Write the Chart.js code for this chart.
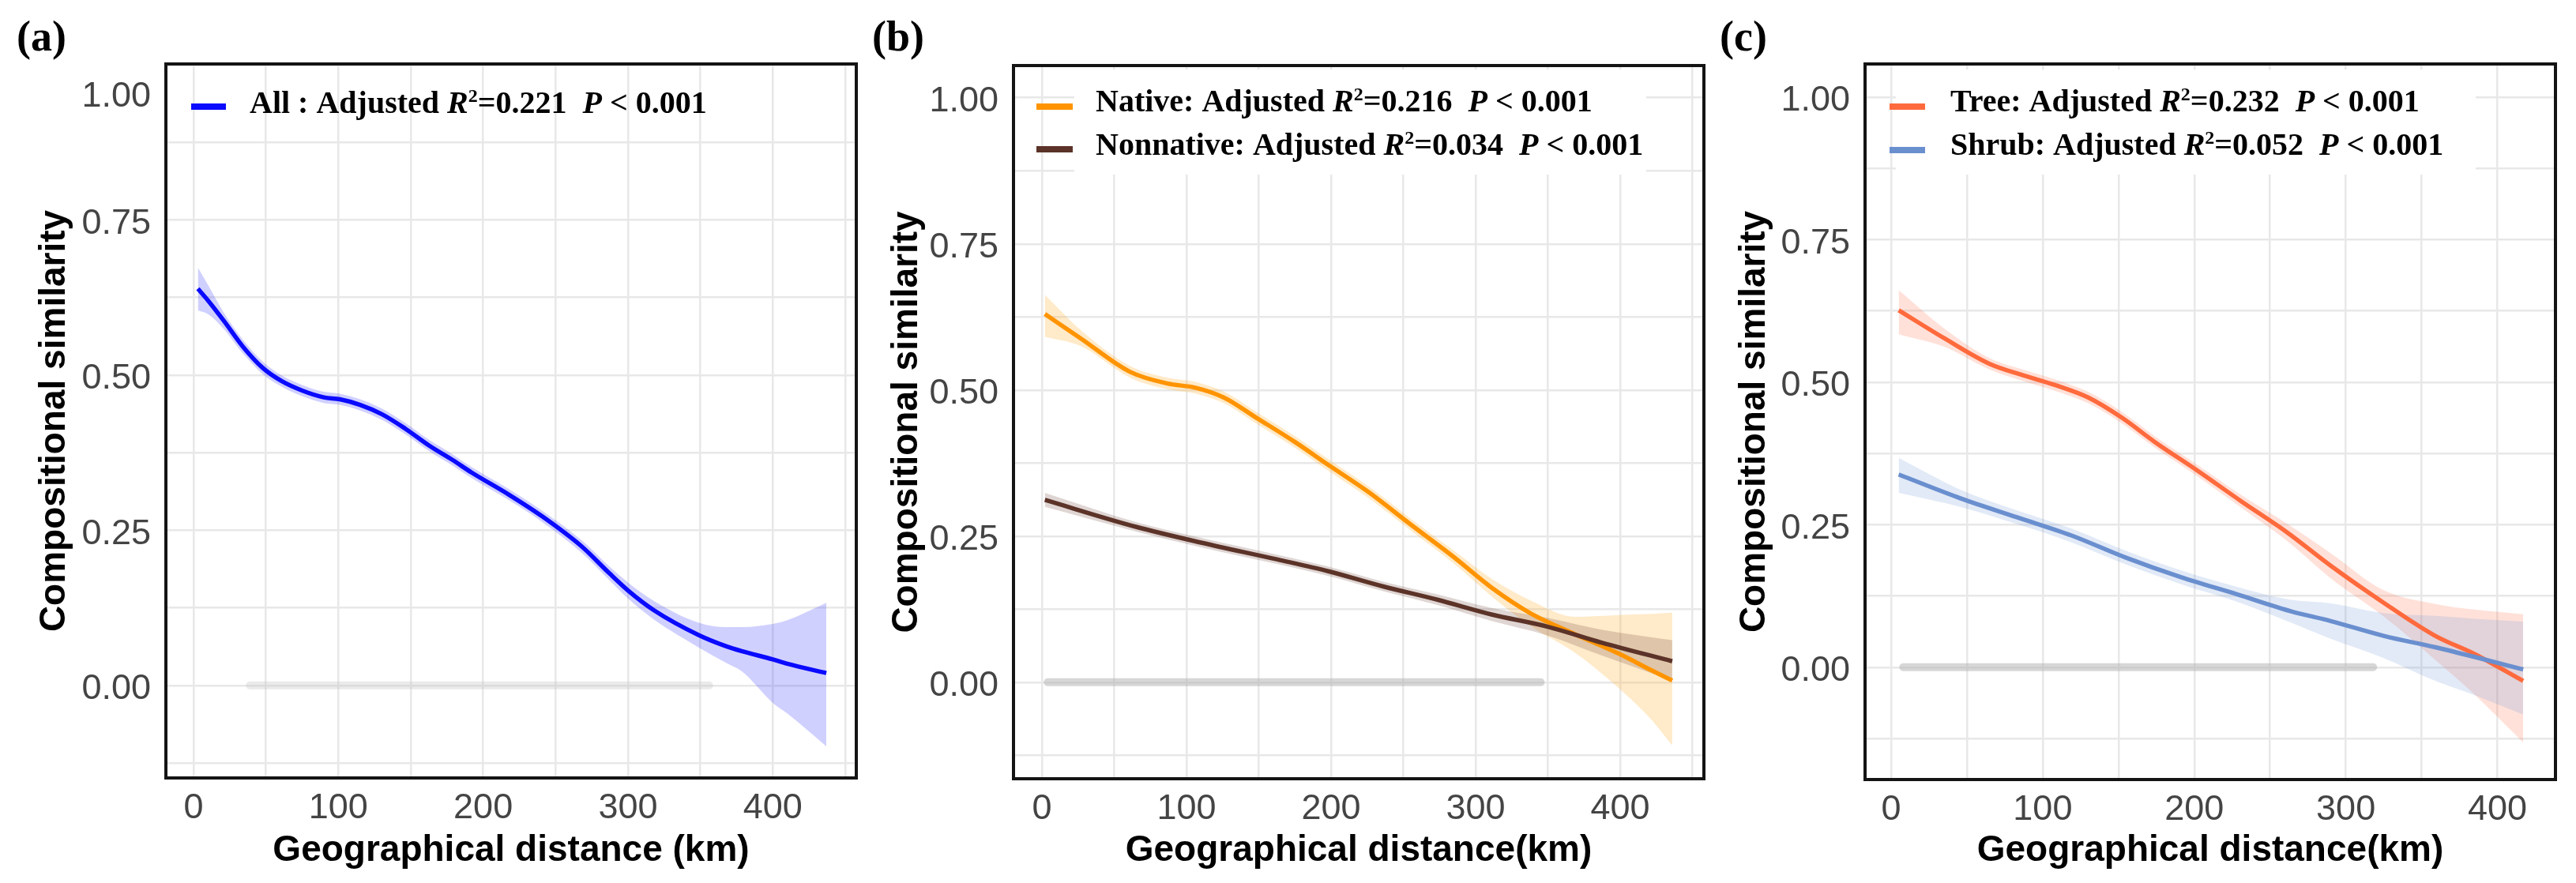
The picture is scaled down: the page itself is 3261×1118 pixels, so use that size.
<!DOCTYPE html>
<html><head><meta charset="utf-8">
<script src="https://cdn.jsdelivr.net/npm/chart.js@4.4.1/dist/chart.umd.min.js"></script>
<style>
html,body{margin:0;padding:0;background:#fff;}
#wrap{position:relative;width:3261px;height:1118px;overflow:hidden;background:#fff;}
canvas{position:absolute;top:0;}
</style></head><body>
<div id="wrap">
<canvas id="ca" width="1095" height="1118" style="left:0px"></canvas>
<canvas id="cb" width="1075" height="1118" style="left:1095px"></canvas>
<canvas id="cc" width="1091" height="1118" style="left:2170px"></canvas>
</div>
<script>
// ---------- tick labels ----------
const xTickLabels = ['0', '100', '200', '300', '400'];
const yTickLabels = ['0.00', '0.25', '0.50', '0.75', '1.00'];
const yTitle = 'Compositional similarity';
const xTitles = ['Geographical distance (km)', 'Geographical distance(km)', 'Geographical distance(km)'];
const panelLabels = ['(a)', '(b)', '(c)'];

// ---------- (a) All ----------
const distAll = [3, 10, 21, 34, 48, 61, 75, 90, 101, 115, 130, 146, 163, 179, 192, 218, 241, 268, 287, 300, 318, 349, 368, 379, 400, 410, 437];
const fitAll  = [0.639, 0.620, 0.587, 0.546, 0.511, 0.490, 0.475, 0.464, 0.461, 0.452, 0.437, 0.414, 0.386, 0.363, 0.343, 0.307, 0.272, 0.224, 0.181, 0.153, 0.121, 0.081, 0.063, 0.055, 0.042, 0.035, 0.020];
const loAll   = [0.604, 0.598, 0.574, 0.535, 0.501, 0.481, 0.466, 0.455, 0.452, 0.443, 0.428, 0.405, 0.377, 0.354, 0.334, 0.298, 0.263, 0.214, 0.170, 0.140, 0.106, 0.061, 0.036, 0.022, -0.028, -0.045, -0.098];
const hiAll   = [0.673, 0.645, 0.600, 0.557, 0.521, 0.499, 0.484, 0.473, 0.470, 0.461, 0.446, 0.423, 0.395, 0.372, 0.352, 0.316, 0.281, 0.234, 0.192, 0.166, 0.136, 0.101, 0.094, 0.094, 0.099, 0.105, 0.133];
const zeroPairsA = [39, 356];

// ---------- (b) Native / Nonnative ----------
const distNat = [2, 27, 61, 87, 106, 126, 148, 175, 198, 225, 255, 285, 311, 338, 369, 399, 422, 436];
const fitNat  = [0.630, 0.588, 0.531, 0.511, 0.504, 0.487, 0.453, 0.411, 0.372, 0.327, 0.270, 0.214, 0.162, 0.118, 0.082, 0.049, 0.020, 0.003];
const loNat   = [0.591, 0.575, 0.521, 0.501, 0.494, 0.477, 0.443, 0.401, 0.362, 0.317, 0.260, 0.203, 0.147, 0.096, 0.050, -0.010, -0.065, -0.108];
const hiNat   = [0.663, 0.602, 0.541, 0.521, 0.514, 0.497, 0.463, 0.421, 0.382, 0.337, 0.280, 0.225, 0.177, 0.140, 0.112, 0.115, 0.117, 0.119];
const distNon = [2, 65, 110, 163, 198, 236, 274, 311, 350, 387, 436];
const fitNon  = [0.312, 0.266, 0.239, 0.210, 0.190, 0.164, 0.141, 0.116, 0.095, 0.068, 0.036];
const loNon   = [0.300, 0.258, 0.231, 0.202, 0.182, 0.156, 0.132, 0.105, 0.080, 0.046, 0.003];
const hiNon   = [0.324, 0.274, 0.247, 0.218, 0.198, 0.172, 0.150, 0.127, 0.110, 0.090, 0.072];
const zeroPairsB = [4, 345];

// ---------- (c) Tree / Shrub ----------
const distTree = [5, 35, 65, 87, 108, 130, 152, 174, 202, 231, 261, 290, 325, 359, 385, 417];
const fitTree  = [0.626, 0.577, 0.532, 0.512, 0.495, 0.473, 0.438, 0.395, 0.345, 0.291, 0.237, 0.178, 0.113, 0.055, 0.023, -0.024];
const loTree   = [0.584, 0.562, 0.522, 0.502, 0.485, 0.463, 0.428, 0.385, 0.335, 0.280, 0.222, 0.156, 0.089, 0.013, -0.048, -0.132];
const hiTree   = [0.661, 0.594, 0.542, 0.522, 0.505, 0.483, 0.448, 0.405, 0.355, 0.302, 0.252, 0.200, 0.135, 0.111, 0.101, 0.093];
const distShrub = [5, 46, 83, 119, 155, 191, 228, 264, 290, 325, 359, 385, 417];
const fitShrub  = [0.338, 0.296, 0.263, 0.231, 0.192, 0.158, 0.128, 0.098, 0.081, 0.055, 0.035, 0.018, -0.004];
const loShrub   = [0.306, 0.281, 0.251, 0.219, 0.180, 0.146, 0.115, 0.078, 0.050, 0.016, -0.024, -0.049, -0.083];
const hiShrub   = [0.367, 0.311, 0.275, 0.243, 0.204, 0.170, 0.141, 0.118, 0.112, 0.095, 0.090, 0.085, 0.080];
const zeroPairsC = [8, 318];

// ---------- legend texts ----------
const legendA = [['All : Adjusted ', 'R', '2', '=0.221  ', 'P', ' < 0.001']];
const legendB = [['Native: Adjusted ', 'R', '2', '=0.216  ', 'P', ' < 0.001'],
                 ['Nonnative: Adjusted ', 'R', '2', '=0.034  ', 'P', ' < 0.001']];
const legendC = [['Tree: Adjusted ', 'R', '2', '=0.232  ', 'P', ' < 0.001'],
                 ['Shrub: Adjusted ', 'R', '2', '=0.052  ', 'P', ' < 0.001']];

// ---------- helpers ----------
const SANS = '"Liberation Sans", Arial, sans-serif';
const SERIF = '"Liberation Serif", "Times New Roman", serif';
const pts = (xs, ys) => xs.map((x, i) => ({x: x, y: ys[i]}));

function seriesSets(xs, fit, lo, hi, color, band, ord) {
  return [
    {data: pts(xs, lo), borderWidth: 0, borderColor: 'rgba(0,0,0,0)', pointRadius: 0, fill: false, order: 5 + ord, cubicInterpolationMode: 'monotone'},
    {data: pts(xs, hi), borderWidth: 0, borderColor: 'rgba(0,0,0,0)', pointRadius: 0, fill: '-1', backgroundColor: band, order: 5 + ord, cubicInterpolationMode: 'monotone'},
    {data: pts(xs, fit), borderWidth: 5.5, borderColor: color, pointRadius: 0, fill: false, order: ord, cubicInterpolationMode: 'monotone'}
  ];
}
function zeroSet(range, color) {
  return {data: [{x: range[0], y: 0}, {x: range[1], y: 0}], borderColor: color, borderWidth: 10, borderCapStyle: 'round', pointRadius: 0, fill: false, order: 20};
}

function drawRichText(ctx, parts, x, baseline, size) {
  let cx = x;
  parts.forEach((t, i) => {
    let font, dy = 0;
    if (i === 1 || i === 4) font = 'italic bold ' + size + 'px ' + SERIF;
    else if (i === 2) { font = 'bold ' + Math.round(size * 0.6) + 'px ' + SERIF; dy = -size * 0.36; }
    else font = 'bold ' + size + 'px ' + SERIF;
    ctx.font = font;
    ctx.fillText(t, cx, baseline + dy);
    cx += ctx.measureText(t).width;
  });
}

const panelPlugin = {
  id: 'panel',
  beforeDatasetsDraw(chart, args, o) {
    if (o.box) {
      const ctx = chart.ctx;
      ctx.save();
      ctx.fillStyle = '#ffffff';
      ctx.fillRect(o.box[0], o.box[1], o.box[2], o.box[3]);
      ctx.restore();
    }
  },
  afterDraw(chart, args, o) {
    const ctx = chart.ctx, a = chart.chartArea;
    ctx.save();
    ctx.strokeStyle = '#141414';
    ctx.lineWidth = 4;
    ctx.strokeRect(a.left, a.top, a.right - a.left, a.bottom - a.top);
    ctx.fillStyle = '#000';
    ctx.textAlign = 'left';
    ctx.textBaseline = 'middle';
    ctx.font = 'bold 54px ' + SERIF;
    ctx.fillText(o.label, o.labelX, o.labelY);
    ctx.textBaseline = 'alphabetic';
    o.items.forEach((it) => {
      ctx.fillStyle = it.color;
      ctx.fillRect(o.swX, it.lineY - 4, o.swW, 8);
      ctx.fillStyle = '#000';
      drawRichText(ctx, it.parts, o.textX, it.base, 40);
    });
    if (o.topLabel) {
      ctx.fillStyle = '#444444';
      ctx.font = '45px ' + SANS;
      ctx.textAlign = 'right';
      ctx.textBaseline = 'middle';
      ctx.fillText(o.topLabel.text, o.topLabel.x, o.topLabel.y);
    }
    ctx.restore();
  }
};

function makeChart(id, c) {
  return new Chart(document.getElementById(id), {
    type: 'line',
    data: {datasets: c.datasets},
    options: {
      responsive: false, animation: false, devicePixelRatio: 1,
      layout: {padding: {top: c.top, right: c.right, left: 0, bottom: 0}},
      plugins: {legend: {display: false}, tooltip: {enabled: false}, panel: c.panel},
      scales: {
        x: {
          type: 'linear', min: c.xmin, max: c.xmax,
          afterFit: s => { s.height = c.xH; },
          grid: {color: '#e8e8e8', lineWidth: 2.5, drawTicks: false},
          border: {display: false},
          ticks: {stepSize: 50, includeBounds: false, autoSkip: false, maxRotation: 0, padding: 12,
                  color: '#444444', font: {family: SANS, size: 45},
                  callback: v => { const s = String(v); return xTickLabels.includes(s) ? s : ''; }},
          title: {display: true, text: c.xTitle, color: '#000', font: {family: SANS, size: 46, weight: 'bold'}, padding: {top: 0, bottom: 13}}
        },
        y: {
          type: 'linear', min: c.ymin, max: c.ymax,
          afterFit: s => { s.width = c.yW; },
          grid: {color: '#e8e8e8', lineWidth: 2.5, drawTicks: false},
          border: {display: false},
          ticks: {stepSize: 0.125, includeBounds: false, autoSkip: false, padding: 19, labelOffset: 5,
                  color: '#444444', font: {family: SANS, size: 45},
                  callback: v => { const s = v.toFixed(2); if (c.hideTop && s === '1.00') return ''; return yTickLabels.includes(s) ? s : ''; }},
          title: {display: true, text: yTitle, color: '#000', font: {family: SANS, size: 46, weight: 'bold'}, padding: {top: c.ytp, bottom: 0}}
        }
      }
    },
    plugins: [panelPlugin]
  });
}

// (a)
makeChart('ca', {
  datasets: [zeroSet(zeroPairsA, 'rgba(190,190,190,0.30)'),
             ...seriesSets(distAll, fitAll, loAll, hiAll, '#0a0aff', 'rgba(40,40,255,0.22)', 1)],
  top: 81, right: 11, xH: 133, yW: 210, ytp: 42,
  xmin: -19.1, xmax: 457.7, ymin: -0.149, ymax: 1.001, hideTop: true,
  xTitle: xTitles[0],
  panel: {label: panelLabels[0], labelX: 21, labelY: 50, box: null,
          swX: 242, swW: 44, textX: 316,
          items: [{color: '#0a0aff', lineY: 135, base: 143, parts: legendA[0]}],
          topLabel: {text: yTickLabels[4], x: 191, y: 123}}
});

// (b)
makeChart('cb', {
  datasets: [zeroSet(zeroPairsB, 'rgba(175,175,175,0.5)'),
             ...seriesSets(distNat, fitNat, loNat, hiNat, '#ff9400', 'rgba(255,170,40,0.25)', 2),
             ...seriesSets(distNon, fitNon, loNon, hiNon, '#5c3328', 'rgba(110,70,60,0.22)', 1)],
  top: 83, right: 13, xH: 132, yW: 188, ytp: 26,
  xmin: -19.7, xmax: 457.9, ymin: -0.165, ymax: 1.055, hideTop: false,
  xTitle: xTitles[1],
  panel: {label: panelLabels[1], labelX: 9, labelY: 50, box: [265, 88, 724, 133],
          swX: 217, swW: 46, textX: 292,
          items: [{color: '#ff9400', lineY: 135, base: 141, parts: legendB[0]},
                  {color: '#5c3328', lineY: 189, base: 196, parts: legendB[1]}],
          topLabel: null}
});

// (c)
makeChart('cc', {
  datasets: [zeroSet(zeroPairsC, 'rgba(175,175,175,0.5)'),
             ...seriesSets(distTree, fitTree, loTree, hiTree, '#ff6a3d', 'rgba(255,120,80,0.22)', 2),
             ...seriesSets(distShrub, fitShrub, loShrub, hiShrub, '#6a8fcf', 'rgba(110,150,215,0.2)', 1)],
  top: 81, right: 26, xH: 131, yW: 191, ytp: 24,
  xmin: -17.2, xmax: 438.3, ymin: -0.197, ymax: 1.058, hideTop: false,
  xTitle: xTitles[2],
  panel: {label: panelLabels[2], labelX: 7, labelY: 50, box: [230, 88, 734, 133],
          swX: 222, swW: 45, textX: 299,
          items: [{color: '#ff6a3d', lineY: 135, base: 141, parts: legendC[0]},
                  {color: '#6a8fcf', lineY: 190, base: 196, parts: legendC[1]}],
          topLabel: null}
});
</script>
</body></html>
